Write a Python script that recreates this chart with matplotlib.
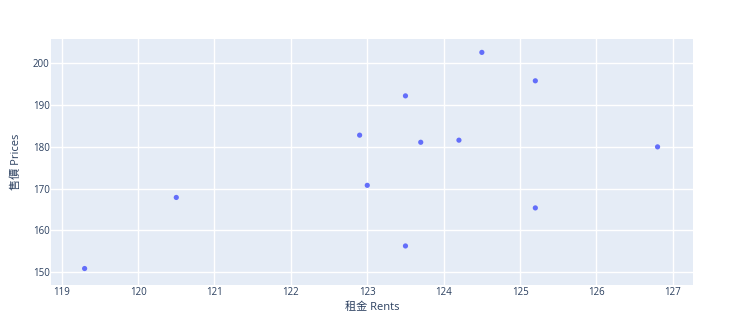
import matplotlib
matplotlib.use("Agg")
import matplotlib.pyplot as plt

rents = [119.3, 120.5, 122.9, 123.0, 123.5, 123.5, 123.7, 124.2, 124.5, 125.2, 125.2, 126.8]
prices = [150.9, 167.9, 182.8, 170.8, 192.2, 156.3, 181.1, 181.6, 202.6, 195.8, 165.4, 180.0]
x_ticks = [119, 120, 121, 122, 123, 124, 125, 126, 127]
y_ticks = [150, 160, 170, 180, 190, 200]
x_label = "租金 Rents"
y_label = "售價 Prices"

plt.rcParams['font.family'] = ['Open Sans', 'Noto Sans CJK TC', 'DejaVu Sans']

fig = plt.figure(figsize=(7.4, 3.35), dpi=100)
ax_w = (692.7 - 51) / 740
ax_h = (285 - 39) / 335
ax = fig.add_axes([51/740, 50/335, ax_w, ax_h])
ax.set_facecolor('#E5ECF6')
for s in ax.spines.values():
    s.set_visible(False)
ax.grid(True, color='white', linewidth=1.0)
ax.set_axisbelow(True)

ax.scatter(rents, prices, s=14, color='#636EFA', edgecolors='none', zorder=3)

ax.set_xlim(118.86, 127.26)
ax.set_ylim(146.96, 205.8)
ax.set_xticks(x_ticks)
ax.set_yticks(y_ticks)
ax.tick_params(axis='both', length=0, labelsize=7, labelcolor='#2a3f5f')
ax.tick_params(axis='x', pad=1.5)
ax.tick_params(axis='y', pad=1)
ax.set_xlabel(x_label, fontsize=8, color='#2a3f5f')
ax.set_ylabel(y_label, fontsize=8, color='#2a3f5f')
ax.xaxis.set_label_coords(0.5, -(302 - 285) / 246)
ax.yaxis.set_label_coords(-(51 - 22) / 641.7, 0.5)

fig.savefig('out.png', dpi=100, facecolor='white')
